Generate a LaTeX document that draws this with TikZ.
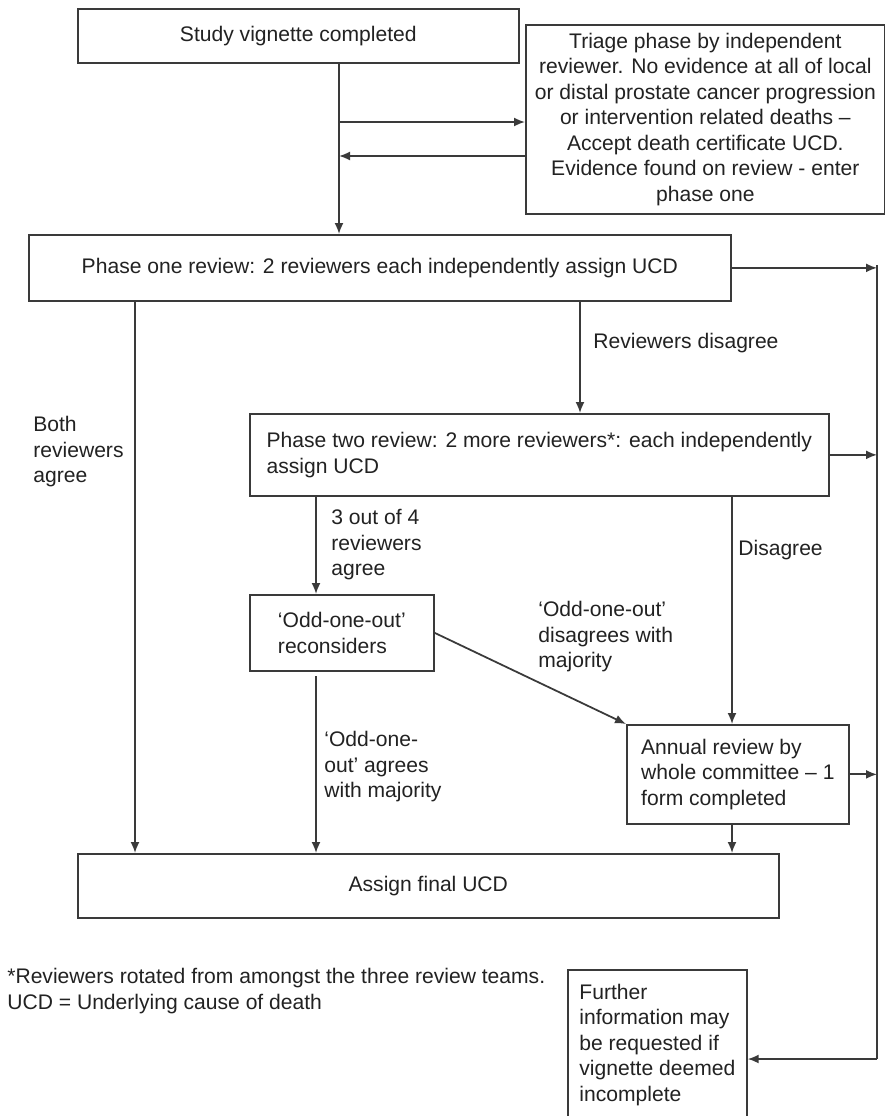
\documentclass[tikz,border=0pt]{standalone}
\usepackage{fontspec}
\setmainfont{Liberation Sans}
\usetikzlibrary{arrows.meta}
\definecolor{linegray}{HTML}{3A3A3A}
\definecolor{txtgray}{HTML}{222222}
\begin{document}
\begin{tikzpicture}[x=0.02cm, y=-0.02cm, >={Latex[length=2.2mm,width=1.8mm]},
  box/.style={draw=linegray, line width=1pt, anchor=north west, inner sep=0pt, align=center, text=txtgray},
  lbl/.style={anchor=west, inner sep=0pt, align=left, text=txtgray}]
\useasboundingbox[fill=white] (0,0) rectangle (885,1116);
\begin{scope}[every node/.style={font=\fontsize{12}{14.5}\selectfont}]
\node[box, minimum width=8.82cm, minimum height=1.08cm] (study) at (77,8) {Study vignette completed};
\node[box, minimum width=7.18cm, minimum height=3.78cm] (triage) at (525,24) {Triage phase by independent\\reviewer. No evidence at all of local\\or distal prostate cancer progression\\or intervention related deaths --\\Accept death certificate UCD.\\Evidence found on review - enter\\phase one};
\node[box, minimum width=14.04cm, minimum height=1.32cm] (phaseone) at (28,234) {Phase one review: 2 reviewers each independently assign UCD};
\node[box, align=left, minimum width=11.58cm, minimum height=1.64cm] (phasetwo) at (249,413) {Phase two review: 2 more reviewers*: each independently\\assign UCD};
\node[box, align=left, minimum width=3.68cm, minimum height=1.52cm] (odd) at (249,594) {‘Odd-one-out’\\reconsiders};
\node[box, align=left, minimum width=4.44cm, minimum height=1.98cm] (annual) at (626,724) {Annual review by\\whole committee -- 1\\form completed};
\node[box, minimum width=14.02cm, minimum height=1.28cm] (assign) at (77,853) {Assign final UCD};
\node[box, align=left, minimum width=3.58cm, minimum height=3.0cm] (further) at (567,969) {Further\\information may\\be requested if\\vignette deemed\\incomplete};
\node[lbl] (l1) at (593,343) {Reviewers disagree};
\node[lbl] (l2) at (33,452) {Both\\reviewers\\agree};
\node[lbl] (l3) at (331,545) {3 out of 4\\reviewers\\agree};
\node[lbl] (l4) at (738,550) {Disagree};
\node[lbl] (l5) at (538,637) {‘Odd-one-out’\\disagrees with\\majority};
\node[lbl] (l6) at (324,767) {‘Odd-one-\\out’ agrees\\with majority};
\node[lbl] (notes) at (7,991) {*Reviewers rotated from amongst the three review teams.\\UCD = Underlying cause of death};
\end{scope}
\coordinate (tx) at (339,0);
\coordinate (in1) at (339,122);
\coordinate (out1) at (339,156);
\coordinate (lx) at (135,0);
\coordinate (mx) at (316,0);
\coordinate (dx) at (580,0);
\coordinate (rx) at (732,0);
\coordinate (sp1) at (877,265);
\coordinate (sp2) at (877,1059);
\begin{scope}[every edge/.style={draw=linegray, line width=1pt, ->}]
\draw (study.south -| tx) edge (phaseone.north -| tx);
\draw (in1) edge (in1 -| triage.west);
\draw (out1 -| triage.west) edge (out1);
\draw (phaseone.east) edge (phaseone.east -| sp1);
\draw (phaseone.south -| lx) edge (assign.north -| lx);
\draw (phaseone.south -| dx) edge (phasetwo.north -| dx);
\draw (phasetwo.east) edge (phasetwo.east -| sp1);
\draw (phasetwo.south -| mx) edge (odd.north -| mx);
\draw (phasetwo.south -| rx) edge (annual.north -| rx);
\draw (odd.east) edge (annual.north west);
\draw (odd.south -| mx) edge[shorten <=2.5pt] (assign.north -| mx);
\draw (annual.south -| rx) edge (assign.north -| rx);
\draw (annual.east) edge (annual.east -| sp1);
\draw[draw=linegray, line width=1pt] (sp1) -- (sp2) edge (sp2 -| further.east);
\end{scope}
\end{tikzpicture}
\end{document}
